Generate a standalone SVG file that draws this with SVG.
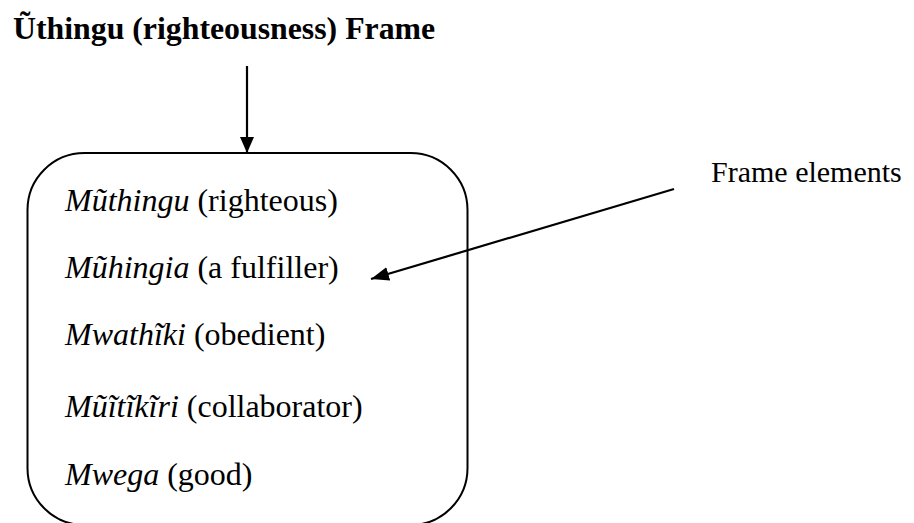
<svg xmlns="http://www.w3.org/2000/svg" width="914" height="523" viewBox="0 0 914 523">
  <style>
    .title { font-family: "Liberation Serif", "Times New Roman", serif; font-weight: bold; font-size: 31.8px; fill: #000; }
    .item { font-family: "Liberation Serif", "Times New Roman", serif; font-size: 32px; fill: #000; }
    .item .term { font-style: italic; }
    .label { font-family: "Liberation Serif", "Times New Roman", serif; font-size: 30px; fill: #000; }
    .frame-box { fill: none; stroke: #000; stroke-width: 2; }
    .link { stroke: #000; stroke-width: 2.2; fill: none; }
  </style>
  <defs>
    <marker id="arrow" viewBox="0 0 16 14" refX="16" refY="7" markerWidth="16" markerHeight="14" markerUnits="userSpaceOnUse" orient="auto">
      <path d="M0,0 L16,7 L0,14 Z" fill="#000"/>
    </marker>
    <marker id="arrow-lg" viewBox="0 0 18 14" refX="18" refY="7" markerWidth="18" markerHeight="14" markerUnits="userSpaceOnUse" orient="auto">
      <path d="M0,0 L18,7 L0,14 Z" fill="#000"/>
    </marker>
  </defs>
  <rect width="914" height="523" fill="#fff"/>

  <g id="frame-title">
    <text class="title" x="13" y="38.5">Ũthingu (righteousness) Frame</text>
  </g>

  <g id="frame-elements-box">
    <rect class="frame-box" x="27.5" y="153" width="440" height="372" rx="57" ry="57"/>
    <text class="item" x="65" y="211"><tspan class="term">Mũthingu</tspan> (righteous)</text>
    <text class="item" x="65" y="278"><tspan class="term">Mũhingia</tspan> (a fulfiller)</text>
    <text class="item" x="65" y="345"><tspan class="term">Mwathĩki</tspan> (obedient)</text>
    <text class="item" x="65" y="417"><tspan class="term">Mũĩtĩkĩri</tspan> (collaborator)</text>
    <text class="item" x="65" y="485"><tspan class="term">Mwega</tspan> (good)</text>
  </g>

  <g id="frame-elements-label">
    <text class="label" x="711" y="182">Frame elements</text>
  </g>

  <g id="connectors">
    <line class="link" x1="247" y1="66" x2="247" y2="153" marker-end="url(#arrow)"/>
    <line class="link" x1="674" y1="189" x2="371" y2="279" marker-end="url(#arrow-lg)"/>
  </g>
</svg>
